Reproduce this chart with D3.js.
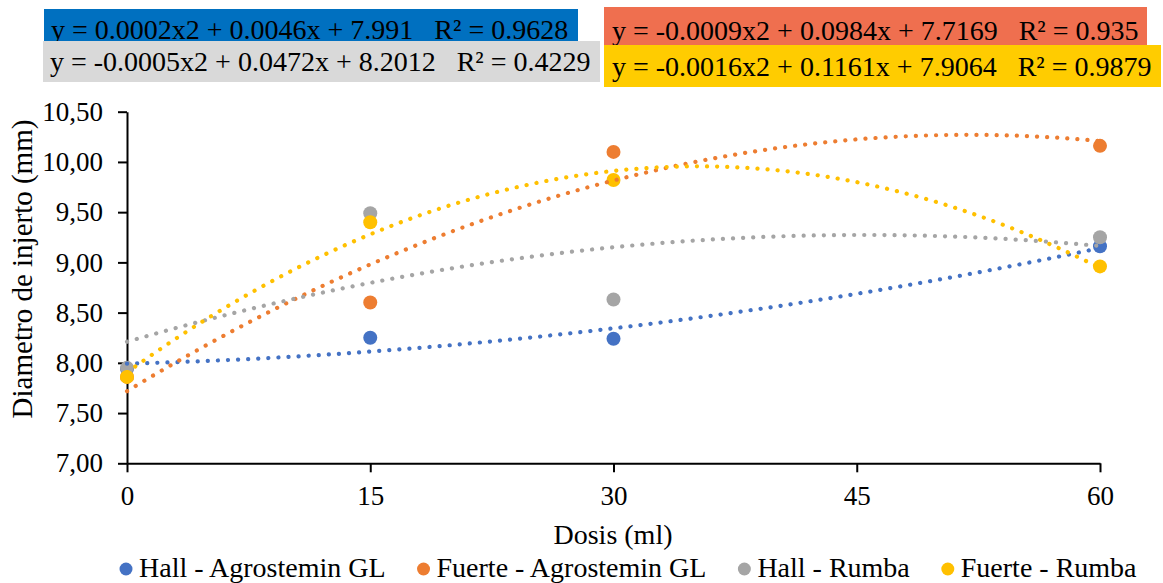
<!DOCTYPE html>
<html>
<head>
<meta charset="utf-8">
<script src="https://cdn.jsdelivr.net/npm/d3@7"></script>
<style>
  html, body { margin: 0; padding: 0; background: #fff; }
  svg { display: block; }
</style>
</head>
<body>
<svg id="chart" width="1163" height="583"></svg>
<script>
// Dose levels (ml) and graft diameter (mm) per variety / product
const doses = [0, 15, 30, 60];
const seriesNames = ["Hall - Agrostemin GL", "Fuerte - Agrostemin GL", "Hall - Rumba", "Fuerte - Rumba"];
const hallAgrostemin = [7.94, 8.25, 8.24, 9.16];
const fuerteAgrostemin = [7.86, 8.60, 10.10, 10.16];
const hallRumba = [7.95, 9.49, 8.63, 9.25];
const fuerteRumba = [7.86, 9.40, 9.82, 8.96];
const seriesColors = ["#4472C4", "#ED7D31", "#A5A5A5", "#FFC000"];

// Trendline equation labels
const equationTexts = [
  "y = 0.0002x2 + 0.0046x + 7.991   R² = 0.9628",
  "y = -0.0009x2 + 0.0984x + 7.7169   R² = 0.935",
  "y = -0.0005x2 + 0.0472x + 8.2012   R² = 0.4229",
  "y = -0.0016x2 + 0.1161x + 7.9064   R² = 0.9879"
];
const equationFills = ["#0070C0", "#EF6F4F", "#D9D9D9", "#FFCC00"];

const xTicks = [0, 15, 30, 45, 60];
const yTicks = [7.0, 7.5, 8.0, 8.5, 9.0, 9.5, 10.0, 10.5];
const xTitle = "Dosis (ml)";
const yTitle = "Diametro de injerto (mm)";

const seriesValues = [hallAgrostemin, fuerteAgrostemin, hallRumba, fuerteRumba];
const series = seriesNames.map((name, i) => ({
  name,
  color: seriesColors[i],
  points: doses.map((d, j) => ({ x: d, y: seriesValues[i][j] }))
}));

const svg = d3.select("#chart");
const TICK_FONT = 27;
const FONT = 28;

// Pick the first installed Times-like face
function pickSerif() {
  const probe = svg.append("text").attr("font-size", 40).text("Diametro 0123456789 (mm) Wgil");
  probe.attr("font-family", "monospace");
  const base = probe.node().getComputedTextLength();
  const cands = ["Liberation Serif", "Times New Roman", "Tinos", "Nimbus Roman", "Times", "DejaVu Serif", "Noto Serif"];
  let found = "serif";
  for (const c of cands) {
    probe.attr("font-family", `"${c}", monospace`);
    if (Math.abs(probe.node().getComputedTextLength() - base) > 0.5) { found = `"${c}", serif`; break; }
  }
  probe.remove();
  return found;
}
const FAMILY = pickSerif();
svg.attr("font-family", FAMILY).style("font-family", FAMILY);

const x = d3.scaleLinear().domain([0, 60]).range([127, 1100]);
const y = d3.scaleLinear().domain([7, 10.5]).range([463.3, 111.7]);

const esLocale = d3.formatLocale({ decimal: ",", thousands: ".", grouping: [3], currency: ["", " €"] });
const fmtY = esLocale.format(".2f");

// Y axis
const gy = svg.append("g")
  .attr("transform", `translate(${x(0)},0)`)
  .call(d3.axisLeft(y).tickValues(yTicks).tickFormat(fmtY).tickSize(9).tickSizeOuter(0).tickPadding(15));
// X axis
const gx = svg.append("g")
  .attr("transform", `translate(0,${y(7)})`)
  .call(d3.axisBottom(x).tickValues(xTicks).tickFormat(d3.format("d")).tickSize(9).tickSizeOuter(0).tickPadding(14));

[gx, gy].forEach(g => {
  g.attr("font-family", FAMILY).attr("font-size", TICK_FONT);
  g.select(".domain").attr("stroke", "#000").attr("stroke-width", 2);
  g.selectAll(".tick line").attr("stroke", "#000").attr("stroke-width", 2);
  g.selectAll(".tick text").attr("fill", "#000");
});
gx.selectAll(".tick text").attr("dy", "0.71em");

// Axis titles
svg.append("text")
  .attr("x", 613).attr("y", 544)
  .attr("text-anchor", "middle").attr("font-size", FONT).attr("fill", "#000")
  .text(xTitle);
svg.append("text")
  .attr("transform", `translate(32,269) rotate(-90)`)
  .attr("text-anchor", "middle").attr("font-size", 29).attr("fill", "#000")
  .text(yTitle);

// Least-squares 2nd order polynomial trendline
function polyFit2(pts) {
  const S = k => d3.sum(pts, p => Math.pow(p.x, k));
  const T = k => d3.sum(pts, p => Math.pow(p.x, k) * p.y);
  const A = [[S(0), S(1), S(2), T(0)], [S(1), S(2), S(3), T(1)], [S(2), S(3), S(4), T(2)]];
  for (let i = 0; i < 3; i++) {
    for (let r = i + 1; r < 3; r++) {
      const f = A[r][i] / A[i][i];
      for (let c = i; c < 4; c++) A[r][c] -= f * A[i][c];
    }
  }
  const c = [0, 0, 0];
  for (let i = 2; i >= 0; i--) {
    let s = A[i][3];
    for (let j = i + 1; j < 3; j++) s -= A[i][j] * c[j];
    c[i] = s / A[i][i];
  }
  return c; // c0 + c1 x + c2 x^2
}

// Markers
series.forEach(s => {
  svg.append("g").selectAll("circle")
    .data(s.points).join("circle")
    .attr("cx", d => x(d.x)).attr("cy", d => y(d.y))
    .attr("r", 7).attr("fill", s.color);
});

// Dotted trendlines
const line = d3.line().x(d => x(d.x)).y(d => y(d.y));
series.forEach(s => {
  const c = polyFit2(s.points);
  const curve = d3.range(0, 60.0001, 0.5).map(v => ({ x: v, y: c[0] + c[1] * v + c[2] * v * v }));
  svg.append("path")
    .datum(curve)
    .attr("d", line)
    .attr("fill", "none")
    .attr("stroke", s.color)
    .attr("stroke-width", 4.2)
    .attr("stroke-linecap", "round")
    .attr("stroke-dasharray", "0.1 10");
});

// Equation boxes
const boxes = [
  { x0: 44, y0: 9, x1: 578, y1: 41, tx: 51, ty: 38.5 },
  { x0: 604, y0: 7, x1: 1147, y1: 45, tx: 612, ty: 40 },
  { x0: 43, y0: 41, x1: 600, y1: 82, tx: 50, ty: 70.5 },
  { x0: 604, y0: 45, x1: 1161, y1: 87, tx: 612, ty: 76 }
];
boxes.forEach((b, i) => {
  const g = svg.append("g");
  g.append("rect")
    .attr("x", b.x0).attr("y", b.y0)
    .attr("width", b.x1 - b.x0).attr("height", b.y1 - b.y0)
    .attr("fill", equationFills[i]);
  g.append("text")
    .attr("x", b.tx).attr("y", b.ty)
    .attr("font-size", FONT).attr("fill", "#000")
    .attr("xml:space", "preserve").style("white-space", "pre")
    .text(equationTexts[i]);
});

// Legend
const legend = svg.append("g");
let lx = 126;
series.forEach(s => {
  legend.append("circle").attr("cx", lx).attr("cy", 569).attr("r", 6.5).attr("fill", s.color);
  const t = legend.append("text")
    .attr("x", lx + 13).attr("y", 577)
    .attr("font-size", FONT).attr("fill", "#000")
    .text(s.name);
  lx = lx + 13 + t.node().getComputedTextLength() + 38;
});
</script>
</body>
</html>
